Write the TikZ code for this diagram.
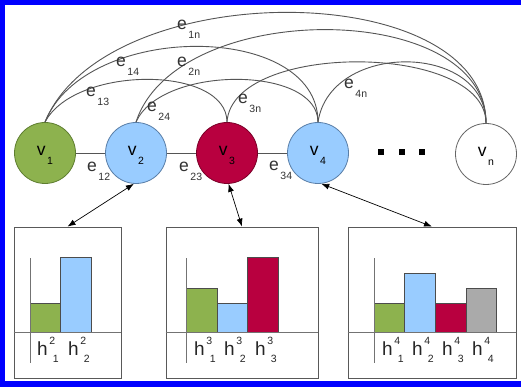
\documentclass[tikz,border=0pt]{standalone}
\usepackage{fontspec}
\setmainfont{Liberation Sans}
\usetikzlibrary{arrows.meta}
\definecolor{cgreen}{HTML}{8DB24E}
\definecolor{cgreenD}{HTML}{5E7E30}
\definecolor{cblue}{HTML}{99CCFF}
\definecolor{cblueD}{HTML}{5A7FA8}
\definecolor{cred}{HTML}{B8003F}
\definecolor{credD}{HTML}{7A0028}
\definecolor{cgray}{HTML}{AAAAAA}
\definecolor{frameblue}{HTML}{0000FF}
\definecolor{edgegray}{HTML}{555555}
\definecolor{labgray}{HTML}{333333}
\newcommand{\elab}[2]{{\fontsize{17.5}{17.5}\selectfont #1}\kern1.5pt\raisebox{-9pt}{\fontsize{10.5}{10.5}\selectfont #2}}
\newcommand{\hlab}[2]{{\fontsize{19}{19}\selectfont h}\kern1.5pt\rlap{\raisebox{10.5pt}{\fontsize{10.5}{10.5}\selectfont #1}}\kern3.5pt\raisebox{-7pt}{\fontsize{10.5}{10.5}\selectfont #2}}
\begin{document}
\begin{tikzpicture}[x=1pt,y=-1pt,
  vnode/.style={circle, minimum size=61pt, inner sep=0pt, draw, line width=0.8pt, text height=8pt, text depth=2pt},
  edge/.style={draw=edgegray, line width=0.9pt},
  elabel/.style={anchor=base west, inner sep=0pt, text=labgray},
  hbox/.style={draw=black!65, line width=0.8pt, minimum width=#1, minimum height=151pt, inner sep=0pt},
  bar/.style={draw=black!70, line width=0.7pt},
  axis/.style={draw=black!55, line width=0.8pt},
  hlabel/.style={anchor=base west, inner sep=0pt, text=black!85},
  dotsq/.style={fill=black, minimum size=6pt, inner sep=0pt},
  dbl/.style={{Latex[length=8pt,width=6pt]}-{Latex[length=8pt,width=6pt]}, line width=0.7pt}
]
\useasboundingbox (0,0) rectangle (521,387);
\fill[white] (0,0) rectangle (521,387);
% frame
\fill[frameblue] (0,0) rectangle (521,5);
\fill[frameblue] (0,0) rectangle (5,387);
\fill[frameblue] (0,381) rectangle (521,387);

% nodes
\node[vnode, fill=cgreen, draw=cgreenD] (v1) at (45,153) {\elab{v}{1}};
\node[vnode, fill=cblue, draw=cblueD] (v2) at (136,153) {\elab{v}{2}};
\node[vnode, fill=cred, draw=credD] (v3) at (227,153) {\elab{v}{3}};
\node[vnode, fill=cblue, draw=cblueD] (v4) at (318,153) {\elab{v}{4}};
\node[vnode, fill=white, draw=black!60] (vn) at (486,154) {\elab{v}{n}};

\node[dotsq] (d1) at (381,152) {};
\node[dotsq] (d2) at (402,152) {};
\node[dotsq] (d3) at (422,152) {};

% straight edges
\draw[edge] (v1) -- (v2);
\draw[edge] (v2) -- (v3);
\draw[edge] (v3) -- (v4);

% arcs
\draw[edge] (v1.north) .. controls +(30,-57) and +(0,-57) .. (v3.north);
\draw[edge] (v1.north) .. controls +(40,-101) and +(0,-101) .. (v4.north);
\draw[edge] (v1.north) .. controls +(60,-147) and +(0,-147) .. (vn.north);
\draw[edge] (v2.north) .. controls +(25,-57) and +(0,-57) .. (v4.north);
\draw[edge] (v2.north) .. controls +(40,-124) and +(0,-124) .. (vn.north);
\draw[edge] (v3.north) .. controls +(5,-81) and +(0,-81) .. (vn.north);
\draw[edge] (v4.north) .. controls +(12,-81) and +(0,-81) .. (vn.north);

% edge labels
\node[elabel] (l12) at (87,172) {\elab{e}{12}};
\node[elabel] (l23) at (179,172) {\elab{e}{23}};
\node[elabel] (l34) at (269,171) {\elab{e}{34}};
\node[elabel] (l13) at (86,97) {\elab{e}{13}};
\node[elabel] (l14) at (116,67) {\elab{e}{14}};
\node[elabel] (l1n) at (177,30) {\elab{e}{1n}};
\node[elabel] (l2n) at (177,67) {\elab{e}{2n}};
\node[elabel] (l24) at (147,112) {\elab{e}{24}};
\node[elabel] (l3n) at (238,104) {\elab{e}{3n}};
\node[elabel] (l4n) at (344,89) {\elab{e}{4n}};

% histogram boxes
\node[hbox=107pt] (b2) at (67.5,302.5) {};
\node[hbox=152pt] (b3) at (242,302.5) {};
\node[hbox=168pt] (b4) at (432,302.5) {};

% box 1
\filldraw[bar, fill=cgreen] (30,332) rectangle (60,303);
\filldraw[bar, fill=cblue] (60,332) rectangle (91,257);
\draw[axis] (b2.west |- 0,332) -- (b2.east |- 0,332);
\draw[axis] (30,258) -- (30,363);
\node[hlabel] (h21) at (37,355) {\hlab{2}{1}};
\node[hlabel] (h22) at (68,355) {\hlab{2}{2}};

% box 2
\filldraw[bar, fill=cgreen] (186,332) rectangle (217,288);
\filldraw[bar, fill=cblue] (217,332) rectangle (247,303);
\filldraw[bar, fill=cred] (247,332) rectangle (278,257);
\draw[axis] (b3.west |- 0,332) -- (b3.east |- 0,332);
\draw[axis] (186,258) -- (186,363);
\node[hlabel] (h31) at (194,355) {\hlab{3}{1}};
\node[hlabel] (h32) at (224,355) {\hlab{3}{2}};
\node[hlabel] (h33) at (255,355) {\hlab{3}{3}};

% box 3
\filldraw[bar, fill=cgreen] (374,332) rectangle (404,303);
\filldraw[bar, fill=cblue] (404,332) rectangle (435,273);
\filldraw[bar, fill=cred] (435,332) rectangle (466,303);
\filldraw[bar, fill=cgray] (466,332) rectangle (496,288);
\draw[axis] (b4.west |- 0,332) -- (b4.east |- 0,332);
\draw[axis] (374,258) -- (374,363);
\node[hlabel] (h41) at (382,355) {\hlab{4}{1}};
\node[hlabel] (h42) at (412,355) {\hlab{4}{2}};
\node[hlabel] (h43) at (442,355) {\hlab{4}{3}};
\node[hlabel] (h44) at (472,355) {\hlab{4}{4}};

% arrows
\draw[dbl] (v2.266) -- (b2.north);
\draw[dbl] (v3.273) -- (b3.north);
\draw[dbl] (v4.276) -- (b4.north);
\end{tikzpicture}
\end{document}
